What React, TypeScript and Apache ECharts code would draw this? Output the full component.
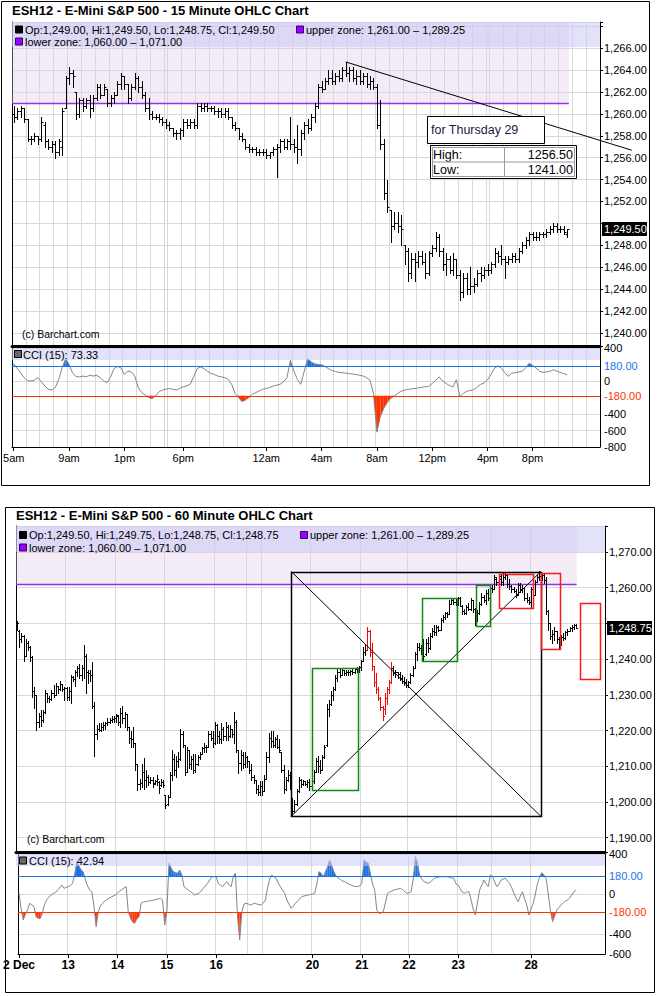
import React, { useEffect, useRef } from "react";
import * as echarts from "echarts";

const FONT = "'Liberation Sans', Arial, Helvetica, sans-serif";

// ================= 15 minute chart =================
const title15 = "ESH12 - E-Mini S&P 500 - 15 Minute OHLC Chart";
const legend15 = "Op:1,249.00, Hi:1,249.50, Lo:1,248.75, Cl:1,249.50";
const cciLegend15 = "CCI (15): 73.33";
const last15 = 1249.5;
// [open, high, low, close]
const bars15: number[][] = [
  [1260,1260.75,1259.25,1259.75],[1259.75,1260.5,1259.5,1260.25],[1260.25,1260.75,1259.75,1260.5],[1260.5,1260.5,1259.25,1259.5],
  [1259.5,1259.5,1257.5,1257.75],[1257.75,1258,1257.25,1257.75],[1257.75,1258.25,1257.5,1258],[1258,1258,1257.25,1257.75],
  [1257.75,1259.75,1257.5,1259.25],[1259,1259.25,1257,1257.5],[1257.5,1257.75,1256.75,1257],[1257,1257.5,1256.5,1257.25],
  [1257.25,1257.5,1256,1256.5],[1256.5,1257.75,1256.25,1257.5],[1257,1260.5,1256.25,1260.25],[1260.5,1263.5,1260.5,1263.25],
  [1263.25,1264.25,1262.75,1263.75],[1263.75,1264,1262.5,1263.5],[1262,1262,1259.5,1260],[1260,1261.5,1259.75,1261.25],
  [1261.25,1261.5,1260.25,1260.75],[1260.75,1261.5,1260.5,1261.25],[1261.25,1261.75,1259.75,1260.5],[1260.5,1261.75,1260.25,1261.5],
  [1261.5,1262.75,1261.25,1262.5],[1262.5,1262.75,1261.5,1261.75],[1261.75,1262.75,1261.75,1262.5],[1262.25,1262.25,1260.75,1261],
  [1261,1261.75,1260.75,1261.5],[1261.5,1262,1261,1261.75],[1261.75,1263,1261.75,1262.75],[1262.75,1263.75,1262.25,1263.5],
  [1263.5,1263.5,1262.25,1262.75],[1262.75,1262.75,1261,1261.5],[1261.5,1262.75,1261.25,1262.5],[1262.5,1263.75,1262.25,1263.25],
  [1263.25,1263.5,1262,1262.5],[1262.5,1263,1261.5,1261.75],[1261.75,1262,1260.25,1260.5],[1260.5,1261.5,1259.5,1260],
  [1260,1260.25,1259.5,1259.75],[1259.75,1260,1259.5,1259.75],[1259.75,1260,1259.25,1259.5],[1259.5,1259.75,1259,1259.25],
  [1259.25,1259.5,1258.75,1259],[1259,1259.25,1258.5,1258.75],[1258.75,1258.75,1258,1258.25],[1258.25,1258.5,1257.75,1258.25],
  [1258.25,1258.75,1257.75,1258.5],[1258.5,1259.5,1258,1259.25],[1259.25,1259.5,1258.75,1259],[1259,1259.5,1258.75,1259.25],
  [1259.25,1259.5,1258.75,1259],[1259,1261,1258.75,1260.75],[1260.75,1261,1260.25,1260.5],[1260.5,1261,1260.25,1260.75],
  [1260.75,1261,1260.25,1260.5],[1260.5,1260.75,1260.25,1260.5],[1260.5,1260.75,1260,1260.25],[1260.25,1260.5,1259.75,1260.25],
  [1260.25,1260.5,1259.75,1260],[1260,1260.5,1259.75,1260.25],[1260.25,1260.5,1259.5,1259.75],[1259.75,1259.75,1258.75,1259],
  [1259,1259.25,1258.5,1258.75],[1258.75,1258.75,1257.75,1258],[1258,1258.25,1257.5,1257.75],[1257.75,1257.75,1256.75,1257],
  [1257,1257.25,1256.5,1256.75],[1256.75,1257,1256.5,1256.75],[1256.75,1257,1256.25,1256.5],[1256.5,1256.75,1256.25,1256.5],
  [1256.5,1256.75,1256.25,1256.5],[1256.5,1256.75,1256,1256.25],[1256.25,1256.5,1256,1256.5],[1256.5,1257,1256.25,1256.75],
  [1256.75,1257.25,1254.25,1257],[1257,1257.75,1256.5,1257.5],[1257.5,1257.75,1256.75,1257],[1257,1257.75,1256.75,1257.5],
  [1257.5,1259.75,1256.75,1257.25],[1257.25,1257.75,1256.5,1257],[1257,1259,1255.5,1256.75],[1256.75,1258.5,1256.25,1258.25],
  [1258.25,1259.25,1257.75,1259],[1259,1259.5,1258.25,1258.75],[1258.75,1260,1258.5,1259.75],[1259.75,1261,1259.25,1260.75],
  [1260.75,1262.75,1260.5,1262.5],[1262.5,1263,1262,1262.25],[1262.25,1263.25,1262.25,1263],[1263,1264,1262.75,1263.25],
  [1263.25,1264,1262.75,1263],[1263,1263.75,1262.75,1263.5],[1263.5,1264,1263,1263.25],[1263.25,1264.25,1263,1264],
  [1264,1264.75,1263.5,1263.75],[1263.75,1264.25,1263,1264],[1264,1264.25,1263,1263.25],[1263.25,1264,1262.75,1263.5],
  [1263.5,1264,1262.75,1263],[1263,1263.75,1262.75,1263.5],[1263.5,1263.75,1262.5,1262.75],[1262.75,1263.5,1262.25,1263],
  [1263,1263.25,1262.25,1262.5],[1262.5,1262.75,1258.75,1259],[1259,1261.25,1256.75,1257.25],[1257.25,1257.75,1252.25,1252.75],
  [1252.75,1254,1251,1251.5],[1251.25,1251.25,1248.25,1249.75],[1249.75,1251,1249.5,1250],[1250,1251,1249.25,1249.75],
  [1249.75,1250.75,1248,1249.5],[1248,1248,1246.25,1247.5],[1247.5,1247.75,1244.75,1245.5],[1245.5,1247.25,1245,1246.75],
  [1246.75,1247.25,1244.75,1246.5],[1246.5,1247.5,1246,1247],[1247,1247.5,1246.25,1246.5],[1246.5,1247.25,1245,1245.5],
  [1245.5,1247.5,1245.25,1247.25],[1247.25,1248,1247,1247.75],[1247.75,1249.25,1247.5,1248.75],[1248.75,1249,1247,1247.5],
  [1247.5,1247.75,1245.75,1246.25],[1246.25,1247.25,1245.25,1246.75],[1246.75,1247,1245.5,1245.75],[1245.75,1247.25,1245.25,1246.75],
  [1246.75,1246.75,1245,1245.25],[1245.25,1245.75,1243,1243.75],[1243.75,1245.5,1243.25,1245],[1245,1245.5,1243.5,1244],
  [1244,1246,1243.5,1244.25],[1244.25,1245,1243.75,1244.5],[1244.5,1245.75,1244.25,1245.5],[1245.5,1246,1244.75,1245.25],
  [1245.25,1246,1245,1245.75],[1245.75,1246.25,1245.25,1245.75],[1245.75,1246.5,1245.5,1246.25],[1246.25,1247.75,1246,1247.25],
  [1247.25,1247.5,1246.5,1247],[1247,1248,1246.25,1246.75],[1246.75,1247,1245,1246.5],[1246.5,1247,1246.25,1246.75],
  [1246.75,1247.25,1246.5,1247],[1247,1247.25,1246.5,1246.75],[1246.75,1247.75,1246.5,1247.5],[1247.5,1248.25,1247.25,1248],
  [1248,1248.75,1247.75,1248.5],[1248.5,1249.25,1248,1249],[1249,1249.25,1248.5,1248.75],[1248.75,1249.25,1248.5,1248.75],
  [1248.75,1249.25,1248.5,1249],[1249,1249.25,1248.75,1249],[1249,1249.5,1248.75,1249.25],[1249.25,1249.75,1249,1249.5],
  [1249.5,1250,1249.25,1249.75],[1249.75,1250,1249.25,1249.5],[1249.5,1249.75,1249.25,1249.5],[1249.5,1249.75,1249,1249.25],
  [1249,1249.5,1248.75,1249.5],
];
const cci15: number[] = [
  210,150,100,40,5,0,10,40,-10,-60,
  -100,-110,-80,20,160,270,200,100,55,50,
  60,50,70,60,70,40,0,-20,50,150,
  175,160,80,120,110,60,-80,-140,-170,-200,
  -215,-180,-130,-110,-100,-90,-100,-110,-90,-70,
  -60,-40,50,150,170,150,120,90,80,60,
  50,40,20,-40,-150,-200,-250,-230,-200,-160,
  -140,-120,-100,-90,-80,-60,-50,-40,-10,40,
  250,120,20,-40,120,270,230,208,200,196,
  176,150,128,115,104,100,96,90,84,78,
  70,60,40,10,-150,-620,-430,-330,-260,-210,
  -184,-150,-124,-110,-100,-96,-90,-84,-75,-70,
  -64,-30,10,48,0,-30,-55,-72,16,-192,
  -150,-124,-115,-104,-70,-40,-24,16,80,156,
  184,156,100,56,96,100,110,116,160,216,
  190,156,120,104,110,116,136,120,104,90,
  73.33,
];
const ticks15: [number, string][] = [
  [0, "5am"], [16, "9am"], [32, "1pm"], [49, "6pm"], [73, "12am"],
  [89, "4am"], [105, "8am"], [121, "12pm"], [137, "4pm"], [150, "8pm"],
];
const breaks15 = [44, 137]; // last bar before the 4:15pm-5pm pause
const trend15 = [96, 1264.75, 178.7, 1256.68];
const zoneEnd15 = 160.5;
const forecastTitle = "for Thursday 29";
const forecastRows: [string, string][] = [["High:", "1256.50"], ["Low:", "1241.00"]];
const priceTicks15 = [1240, 1266, 2];
const cciLabels15 = [400, 0, -400, -600, -800];

// ================= 60 minute chart =================
const title60 = "ESH12 - E-Mini S&P 500 - 60 Minute OHLC Chart";
const legend60 = "Op:1,249.50, Hi:1,249.75, Lo:1,248.75, Cl:1,248.75";
const cciLegend60 = "CCI (15): 42.94";
const last60 = 1248.75;
const bars60: number[][] = [
  [1249.5,1250.75,1248.25,1250.25],[1248,1248.25,1243.5,1245.5],[1245.5,1247.25,1244.75,1246.5],[1246.5,1246.75,1239.5,1241],
  [1241,1245.5,1241,1244.5],[1244.5,1245,1242.5,1243.5],[1243.5,1243.75,1239.5,1240.5],[1240.5,1241,1229.5,1231],
  [1231,1232.25,1226.25,1230],[1230,1230,1220.25,1222.5],[1222.5,1225,1221,1224],[1224,1225.75,1221.25,1223],
  [1223,1225.75,1222.5,1225.25],[1225.25,1231.25,1225,1230.5],[1230.5,1230.5,1228,1229],[1229,1229.75,1228,1228.75],
  [1228.75,1231.25,1228.5,1230.5],[1230.5,1232.75,1229.5,1230],[1230,1233.25,1230,1232.5],[1232.5,1232.5,1230.5,1231.5],
  [1231.5,1233.75,1231.25,1233],[1233,1233,1231,1231.5],[1231.5,1232.25,1228.5,1232],[1232,1232.25,1228.5,1229.5],
  [1229.5,1232.25,1228.5,1231],[1231,1235.5,1227.75,1235],[1235,1235.25,1233.75,1234.5],[1234.5,1237,1232.5,1236.5],
  [1236.5,1238,1235.25,1237.5],[1237.5,1238.75,1234.75,1235.5],[1235.5,1238.25,1234.25,1237.5],[1237.5,1244,1234.75,1241],
  [1241,1241.5,1230.5,1236.5],[1236.5,1237,1233.25,1236],[1236,1237,1233.75,1235.5],[1235.5,1239.25,1226.25,1227],
  [1227,1228,1212.75,1219],[1219,1221.5,1217.75,1220.5],[1220.5,1222,1219.75,1220.25],[1220.25,1222,1219.75,1221],
  [1221,1222.5,1220.25,1221.5],[1221.5,1222.5,1220.5,1222],[1222,1223.5,1221.5,1222.5],[1222.5,1223.5,1222,1223],
  [1223,1224,1222.25,1223.25],[1223.25,1224,1222.5,1223.5],[1223.5,1224.75,1222.5,1224.25],[1224,1224.25,1221.5,1222.25],
  [1222.25,1226.25,1221,1225],[1225,1226.75,1222,1223.5],[1223.5,1225.25,1221,1224.5],[1224.5,1224.5,1220.25,1221],
  [1221,1221,1216.5,1218],[1218,1219.75,1215.5,1217.5],[1217.5,1221,1215.5,1216.5],[1216.5,1216.5,1209,1210.5],
  [1210.5,1210.5,1203.25,1205],[1205,1206.5,1203.75,1205.25],[1205.25,1210.75,1204.25,1208.5],[1208.5,1212.25,1203.5,1206],
  [1206,1209,1204.25,1207],[1207,1207.5,1204.75,1205.5],[1205.5,1207,1205.25,1206.25],[1206.25,1207,1204.25,1205],
  [1205.25,1206.25,1205,1205.75],[1205.75,1207.5,1204.75,1206.5],[1205.5,1205.75,1202.5,1204],[1204.75,1206.5,1204.5,1205.5],
  [1205.5,1206,1204.25,1204.75],[1202,1202,1198.25,1199],[1199.5,1202,1199.25,1201.5],[1201.5,1208.5,1201.25,1207.5],
  [1207.5,1214.5,1206.25,1212],[1212,1213.5,1207.5,1209],[1209,1212.75,1207,1211.5],[1211.5,1214,1209.75,1212],
  [1212,1220.5,1211.75,1219],[1219,1220,1215.5,1216],[1216,1216,1207.5,1208.5],[1208.5,1215.5,1208.25,1214.5],
  [1214.5,1214.5,1209.5,1210.5],[1210.5,1212.75,1209.25,1212],[1212,1213.5,1208,1209],[1209,1213.5,1208.25,1210.5],
  [1210.5,1213,1210.25,1212.5],[1212.5,1214,1212,1213.5],[1213.5,1215.5,1213.5,1215],[1215,1216.5,1214,1215.25],
  [1215.25,1216,1214,1215.5],[1215.5,1219.75,1215.5,1219],[1219,1219.75,1217.25,1218],[1218,1219.75,1215.5,1216.5],
  [1216.5,1222.5,1216.25,1221.5],[1221.5,1221.75,1216.5,1218.5],[1218.5,1220,1216.5,1217.5],[1217.5,1222,1216.5,1220.5],
  [1220.5,1221,1217.25,1218.5],[1218.5,1222.5,1217.25,1221],[1221,1221.5,1217.25,1218.5],[1218.5,1221.5,1218.25,1220.5],
  [1220.5,1220.5,1218.25,1219],[1219,1225.25,1216.5,1222.5],[1222.5,1223,1214,1214.5],[1214.5,1214.5,1208,1211],
  [1211,1214.5,1209,1213],[1213,1214,1209.5,1210.5],[1210.5,1214,1209.75,1212.5],[1212.5,1212.75,1209.75,1211.5],
  [1211.5,1211.5,1208,1209],[1209,1210.75,1206,1207],[1207,1207.5,1205.25,1206],[1206,1206,1202.5,1203.5],
  [1203.5,1204.75,1202,1202.75],[1202.75,1205.75,1202,1204.5],[1204.5,1205.75,1202,1203],[1203,1207.5,1203,1206.5],
  [1206.5,1214,1206.5,1212.5],[1212.5,1219.25,1211.25,1218],[1218,1219.75,1215.5,1217],[1217,1219.75,1215.5,1216],
  [1216,1218.25,1215.5,1217.5],[1217.5,1218.75,1215,1215.5],[1215.5,1217.75,1214,1214.5],[1214,1214,1208.5,1209],
  [1209,1210.25,1202.5,1203.5],[1203.5,1207,1203.25,1206],[1206,1209,1205.75,1207.5],[1207.5,1208.5,1203.75,1204.5],
  [1200.5,1201,1196,1197.5],[1197.5,1200.5,1197.25,1199.5],[1199.5,1203.75,1199.25,1203],[1203,1207,1202.75,1206],
  [1206,1206.5,1204.25,1205],[1205,1206.25,1204.75,1205.75],[1205.75,1205.75,1204.75,1205],[1205,1206,1204.25,1205.5],
  [1205.5,1206.5,1203.25,1204.5],[1204.5,1206.5,1203.25,1205.75],[1205.75,1209,1205.25,1208.5],[1208.5,1212.25,1208.25,1211.5],
  [1211.5,1212.75,1208.5,1210],[1210,1211.75,1208,1209],[1209,1213,1209,1212.5],[1212.5,1216,1212.25,1215.5],
  [1216,1227.5,1215.75,1226],[1226,1228.5,1224,1227.5],[1227.5,1231,1227.25,1230],[1230,1232.25,1228.5,1231.5],
  [1231.5,1235.5,1231.25,1234.75],[1234.75,1237.5,1234,1236.5],[1236.5,1237.5,1235,1235.5],[1235.5,1237.5,1235.5,1237],
  [1237,1237,1235.5,1236],[1236,1237,1235.5,1236.5],[1236.5,1237,1235.5,1236.25],[1236.25,1237,1235.5,1236.75],
  [1236.75,1237.25,1235.75,1236.5],[1236.5,1237.5,1236,1237.25],[1237.25,1237.75,1236.5,1237],[1237,1238,1236.5,1237.75],
  [1237.75,1239.75,1237,1239.5],[1239.5,1243.5,1239.5,1242],[1242,1244,1241.25,1242.5],[1242.5,1249,1242.5,1248],
  [1248,1248.25,1240.75,1242],[1242,1244.5,1237,1238],[1238,1238,1232.5,1233.5],[1233.5,1236,1230.5,1231.5],
  [1231.5,1232.25,1228.5,1229],[1229,1229.5,1225.75,1226.5],[1226.5,1226.75,1223,1224],[1226,1230.5,1224.5,1229],
  [1229,1232.25,1227.5,1231.5],[1231.5,1234.25,1230.5,1233.5],[1233.5,1239.25,1233.25,1237.5],[1237.5,1238,1235.5,1236],
  [1236,1237,1235,1236.5],[1236.5,1236.5,1234.75,1235.75],[1235.75,1236.5,1234.25,1234.75],[1234.75,1235.5,1233.25,1234],
  [1234,1235,1232.75,1233.5],[1233.5,1234.5,1232.25,1232.75],[1232.75,1233.75,1232.25,1233.5],[1233.5,1236,1233.25,1235.5],
  [1235.5,1238,1235.25,1237.5],[1237.5,1242,1237.5,1241.5],[1241.5,1244.5,1239.75,1243.5],[1243.5,1244.5,1242.5,1243],
  [1243,1244,1241.5,1242],[1242,1245.75,1239.75,1241],[1241.5,1245.75,1241.25,1244.5],[1244.5,1246.25,1242,1243],
  [1243,1247.25,1242.75,1246.5],[1246.5,1248.75,1246.25,1248],[1248,1249.5,1246.75,1247.5],[1247.5,1249.5,1246.75,1249],
  [1249,1249.25,1247.75,1248.25],[1248.25,1251.5,1248.25,1251],[1251,1252.25,1250.5,1251.75],[1251.75,1253.25,1251.25,1253],
  [1253,1253.25,1251.75,1252.5],[1252.5,1256.5,1252.5,1255.5],[1255.5,1257,1255.5,1256.5],[1256.5,1256.75,1255.5,1256],
  [1256,1257,1255.25,1255.75],[1255.75,1257.5,1255.25,1257],[1257,1257.5,1254.75,1255],[1255,1255.25,1252.75,1253.5],
  [1253.5,1254,1252.75,1253],[1253,1255.25,1252.75,1254.5],[1254.5,1255.75,1253.75,1254],[1254,1257,1253.75,1256.5],
  [1256.5,1256.5,1253.25,1254],[1254,1254.25,1249.5,1251],[1251,1253.75,1250.75,1253],[1253,1256,1252.75,1255.5],
  [1255.5,1258.5,1255.25,1257.5],[1257.5,1258,1256,1256.5],[1256.5,1259.25,1255.5,1258.5],[1258.5,1259.75,1256.5,1257],
  [1257,1260.25,1256.5,1260],[1260,1260.75,1258.75,1259.5],[1259.5,1263.5,1259.5,1263],[1262.5,1263,1260.75,1261.5],
  [1261.5,1263.75,1261,1263.25],[1262.5,1263.5,1260.75,1261.5],[1261.5,1264,1260.75,1263],[1263,1264,1262.5,1263.5],
  [1263.5,1263.5,1260.25,1261],[1261,1262.5,1259.75,1260.5],[1260.5,1260.75,1258.75,1259.5],[1259.5,1260.25,1258.75,1259],
  [1259,1259.5,1257.5,1258],[1258,1261.25,1258,1260.75],[1260.75,1261.25,1258.75,1259.5],[1259.5,1260.75,1258.75,1260],
  [1260,1260,1256.5,1257],[1257,1258.5,1256,1256.5],[1256.5,1257.5,1255.5,1256],[1256,1260.25,1254.5,1259.5],
  [1259.5,1260,1257.5,1258],[1258,1262.25,1258,1261.5],[1261.5,1263.5,1261.5,1263],[1263,1264.75,1262.25,1263.25],
  [1263.25,1264,1262.25,1263.5],[1263.5,1263.75,1261.25,1262.25],[1262.25,1263,1252.75,1253.5],[1253.5,1253.75,1248.25,1250],
  [1250,1250,1245.5,1246.5],[1246.5,1248.25,1244.5,1247],[1247,1249,1245.25,1248],[1248,1248,1244.5,1245.5],
  [1245.5,1246.25,1242.75,1244],[1244,1246.75,1244,1246.25],[1246.25,1247.25,1245.25,1246],[1246,1247.75,1245.75,1247.5],
  [1247.5,1248.5,1246.75,1248],[1248,1249,1247.75,1248.75],[1248.75,1249.5,1248,1249],[1249,1249.75,1248.5,1249.5],
  [1249.5,1249.75,1248.75,1248.75],
];
const cci60: number[] = [
  10,-150,-260,-200,-160,-93,-110,-127,-230,-243,
  -243,-180,-100,-55,-30,-10,5,15,40,60,
  90,57,65,73,85,107,200,323,280,240,
  223,140,80,40,23,-120,-327,-177,-120,-93,
  -70,-55,-43,-30,-20,-10,10,30,45,60,
  73,-177,-240,-280,-293,-250,-227,-93,-80,-77,
  -72,-68,-65,-60,-55,-50,-43,-60,-310,-177,
  307,260,223,215,207,240,190,73,55,40,
  25,10,-10,0,7,30,57,80,107,140,
  173,173,173,107,90,73,100,123,90,73,
  173,207,-227,-460,-177,-100,-93,-100,-110,-100,
  -93,-100,-105,-110,-90,-60,60,150,190,170,
  157,110,73,40,7,-60,-100,-143,-120,-93,
  -70,-50,-27,-20,-15,-10,-5,0,7,100,
  223,207,173,220,273,340,280,223,180,157,
  145,130,123,110,100,90,80,75,73,80,
  107,340,320,307,207,100,40,-160,-193,-190,
  -177,-90,7,20,30,40,45,50,57,45,
  25,7,10,23,150,373,307,190,150,123,
  115,107,120,140,157,165,170,173,172,173,
  173,165,160,157,100,90,50,15,7,20,
  23,-60,-150,-210,-80,40,90,140,100,73,
  190,173,120,73,100,140,150,157,130,107,
  60,7,-40,-77,-20,23,-50,-110,-210,-150,
  -93,0,107,170,213,190,157,0,-160,-277,
  -220,-160,-135,-110,-90,-70,-60,-40,-10,20,
  42.94,
];
const ticks60: [number, string][] = [
  [0, "2 Dec"], [23, "13"], [46, "14"], [69, "15"], [92, "16"],
  [137, "20"], [160, "21"], [182, "22"], [205, "23"], [239, "28"],
];
const dayLines60 = [23, 46, 69, 92, 107, 114, 137, 160, 182, 205, 221, 239];
const redBars60 = [163, 174];
const bigBox60 = [127.6, 243.6, 1196, 1264.5];
const greenBoxes60: number[][] = [
  [137, 158.5, 1203.25, 1237.5],
  [188.5, 204.7, 1239.5, 1257],
  [213.3, 219.8, 1249.25, 1260.75],
];
const redBoxes60: number[][] = [
  [224.2, 240, 1254.4, 1263.75],
  [243.6, 252.4, 1242.7, 1264],
  [262, 271, 1234.4, 1255.6],
];
const zoneEnd60 = 260.3;
const priceTicks60 = [1190, 1270, 10];
const cciLabels60 = [400, 0, -400, -600];

// ================= shared =================
const upperZone = [1261.0, 1289.25];
const upperZoneText = "upper zone: 1,261.00 \u2013 1,289.25";
const lowerZoneText = "lower zone: 1,060.00 \u2013 1,071.00";
const cciLevels = [180, -180];
const copyright = "(c) Barchart.com";

const N15 = 170;
const N60 = 274;
const GRID = "#d9d9d9";
const BLUE = "#1a74e8";
const RED = "#ff3300";
const PURPLE = "#9a2cf0";

function bx(api: any, x: number, n: number) {
  const i = Math.max(0, Math.min(n - 1, Math.floor(x)));
  return api.coord([i, 0])[0] + (x - i) * api.size([1, 0])[0];
}

function ohlcRender(tick: number, isRed: (i: number) => boolean) {
  return (params: any, api: any) => {
    const i = api.value(0);
    const o = api.value(1), h = api.value(2), l = api.value(3), c = api.value(4);
    const px = api.coord([i, h]);
    const x = Math.round(px[0]) + 0.5;
    const yh = Math.round(px[1]);
    const yl = Math.round(api.coord([i, l])[1]) + 1;
    const yo = Math.round(api.coord([i, o])[1]) + 0.5;
    const yc = Math.round(api.coord([i, c])[1]) + 0.5;
    const st = { stroke: isRed(i) ? "#ff0000" : "#000", lineWidth: 1 };
    return {
      type: "group",
      children: [
        { type: "line", shape: { x1: x, y1: yh, x2: x, y2: yl }, style: st },
        { type: "line", shape: { x1: x - tick, y1: yo, x2: x, y2: yo }, style: st },
        { type: "line", shape: { x1: x, y1: yc, x2: x + tick, y2: yc }, style: st },
      ],
    };
  };
}

function cciFillRender(params: any, api: any) {
  const i = api.value(0), a = api.value(1), b = api.value(2);
  const P = (t: number, v: number) => {
    const p0 = api.coord([i, v]);
    const p1 = api.coord([i + 1, v]);
    return [p0[0] + (p1[0] - p0[0]) * t, p0[1]];
  };
  const children: any[] = [];
  const defs: [number, string, number][] = [[cciLevels[0], BLUE, 1], [cciLevels[1], RED, -1]];
  for (const [th, color, sign] of defs) {
    const A = (a - th) * sign, B = (b - th) * sign;
    if (A <= 0 && B <= 0) continue;
    let pts: number[][];
    if (A > 0 && B > 0) pts = [P(0, th), P(0, a), P(1, b), P(1, th)];
    else if (A > 0) pts = [P(0, th), P(0, a), P(A / (A - B), th)];
    else pts = [P(-A / (B - A), th), P(1, b), P(1, th)];
    children.push({ type: "polygon", shape: { points: pts }, style: { fill: color } });
  }
  return { type: "group", children };
}

function zoneRender(zoneEnd: number, n: number) {
  return (params: any, api: any) => {
    const cs = params.coordSys;
    const x0 = cs.x, x1 = bx(api, zoneEnd, n);
    const yLo = api.coord([0, upperZone[0]])[1];
    const yHi = Math.max(cs.y, api.coord([0, upperZone[1]])[1]);
    const yl = Math.round(yLo) + 0.5;
    return {
      type: "group",
      children: [
        { type: "rect", shape: { x: x0, y: yHi, width: x1 - x0, height: yLo - yHi }, style: { fill: "rgba(222,200,228,0.36)" } },
        { type: "line", shape: { x1: x0, y1: yl, x2: x1, y2: yl }, style: { stroke: PURPLE, lineWidth: 1.5 } },
      ],
    };
  };
}

function tagRender(value: number) {
  const text = value.toLocaleString("en-US", { minimumFractionDigits: 2, maximumFractionDigits: 2 });
  return (params: any, api: any) => {
    const cs = params.coordSys;
    const y = Math.round(api.coord([0, value])[1]);
    const x = cs.x + cs.width + 2;
    return {
      type: "group",
      children: [
        { type: "rect", shape: { x, y: y - 7, width: 45, height: 14 }, style: { fill: "#000" } },
        {
          type: "text", x: x + 2, y,
          style: { text, fill: "#fff", font: `11px ${FONT}`, textAlign: "left", align: "left", textVerticalAlign: "middle", verticalAlign: "middle" },
        },
      ],
    };
  };
}

function priceFmt(t: number[], last: number, gap: number) {
  return (v: number) => {
    const r = Math.round(v * 100) / 100;
    if (r < t[0] - 1e-6 || r > t[1] + 1e-6) return "";
    if (Math.abs(r / t[2] - Math.round(r / t[2])) > 1e-6) return "";
    if (Math.abs(r - last) < gap) return "";
    return r.toLocaleString("en-US", { minimumFractionDigits: 2, maximumFractionDigits: 2 });
  };
}

function txt(x: number, y: number, text: string, font = `11px ${FONT}`, fill = "#000", align = "left") {
  return {
    type: "text", x, y, z: 20, silent: true,
    style: { text, fill, font, textAlign: align, align, textVerticalAlign: "middle", verticalAlign: "middle" },
  };
}
function rect(x: number, y: number, w: number, h: number, style: any, z = 20) {
  return { type: "rect", z, silent: true, shape: { x, y, width: w, height: h }, style };
}
function gline(x1: number, y1: number, x2: number, y2: number, stroke: string) {
  return { type: "line", z: 21, silent: true, shape: { x1, y1, x2, y2 }, style: { stroke, lineWidth: 1 } };
}

function buildOption() {
  const minutes15: number[] = [];
  let t = 300;
  for (let i = 0; i < N15; i++) {
    minutes15.push(t);
    t = breaks15.includes(i) ? 17 * 60 : (t + 15) % 1440;
  }
  const cats15 = minutes15.map((m) => `${Math.floor(m / 60)}:${String(m % 60).padStart(2, "0")}`);
  const cats60 = Array.from({ length: N60 }, (_, i) => String(i));
  const tickMap15 = new Map(ticks15);
  const tickMap60 = new Map(ticks60);
  const hourLine = (i: number) => minutes15[i] % 60 === 0;
  const dayLine = (i: number) => dayLines60.includes(i);

  const xMain = (gridIndex: number, data: string[], split: (i: number) => boolean) => ({
    type: "category", gridIndex, data, boundaryGap: true,
    axisLine: { show: true, onZero: false, lineStyle: { color: "#000", width: 3 } },
    axisTick: { show: false }, axisLabel: { show: false },
    splitLine: { show: true, interval: (i: number) => split(i), lineStyle: { color: GRID, width: 1 } },
  });
  const xCci = (gridIndex: number, data: string[], split: (i: number) => boolean, map: Map<number, string>, bold: boolean) => ({
    type: "category", gridIndex, data, boundaryGap: true,
    axisLine: { show: true, onZero: false, lineStyle: { color: "#000", width: 1 } },
    axisTick: { show: true, alignWithLabel: true, interval: (i: number) => map.has(i), length: 4, lineStyle: { color: "#000" } },
    axisLabel: {
      show: true, interval: (i: number) => map.has(i), formatter: (_v: string, i: number) => map.get(i) ?? "",
      color: "#000", fontSize: bold ? 12 : 11, fontWeight: bold ? "bold" : "normal", fontFamily: FONT, margin: 5,
    },
    splitLine: { show: true, interval: (i: number) => split(i), lineStyle: { color: GRID, width: 1 } },
  });
  const yPrice = (gridIndex: number, min: number, max: number, splitNumber: number, fmt: any) => ({
    type: "value", gridIndex, position: "right", min, max, splitNumber, scale: true,
    axisLine: { show: true, onZero: false, lineStyle: { color: "#000" } },
    axisTick: { show: true, length: 3, lineStyle: { color: "#000" } },
    axisLabel: { formatter: fmt, color: "#000", fontSize: 11, fontFamily: FONT, margin: 4 },
    splitLine: { show: true, lineStyle: { color: GRID } },
  });
  const yLeft = (gridIndex: number) => ({
    type: "value", gridIndex, position: "left", min: 0, max: 1,
    axisLine: { show: true, onZero: false, lineStyle: { color: "#000" } },
    axisTick: { show: false }, axisLabel: { show: false }, splitLine: { show: false },
  });
  const yCci = (gridIndex: number, min: number, labels: number[]) => {
    const count = Math.round((400 - min) / 200) + 1;
    const colors = Array.from({ length: count }, (_, k) => (labels.includes(min + k * 200) ? GRID : "rgba(0,0,0,0)"));
    return {
      type: "value", gridIndex, position: "right", min, max: 400, interval: 200,
      axisLine: { show: true, onZero: false, lineStyle: { color: "#000" } },
      axisTick: { show: false },
      axisLabel: { formatter: (v: number) => (labels.includes(v) ? String(v) : ""), color: "#000", fontSize: 11, fontFamily: FONT, margin: 4 },
      splitLine: { show: true, lineStyle: { color: colors } },
    };
  };
  const cciLine = (xi: number, yi: number, data: number[]) => ({
    type: "line", xAxisIndex: xi, yAxisIndex: yi, data, z: 4, symbol: "none", showSymbol: false,
    lineStyle: { color: "#858585", width: 1 }, silent: true,
    markLine: {
      silent: true, symbol: ["none", "none"],
      data: [
        { yAxis: cciLevels[0], lineStyle: { color: BLUE, width: 1, type: "solid" },
          label: { show: true, position: "end", formatter: "180.00", color: BLUE, fontSize: 11, fontFamily: FONT, distance: 4 } },
        { yAxis: cciLevels[1], lineStyle: { color: RED, width: 1, type: "solid" },
          label: { show: true, position: "end", formatter: "-180.00", color: RED, fontSize: 11, fontFamily: FONT, distance: 4 } },
      ],
    },
  });
  const cciFill = (xi: number, yi: number, data: number[]) => ({
    type: "custom", xAxisIndex: xi, yAxisIndex: yi, z: 3, silent: true, clip: false,
    data: data.slice(0, -1).map((v, i) => [i, v, data[i + 1]]),
    encode: { x: 0, y: [1, 2] },
    renderItem: cciFillRender,
  });

  const inRed = (i: number) => i >= redBars60[0] && i <= redBars60[1];

  const series: any[] = [
    // ---- top ----
    { type: "custom", xAxisIndex: 0, yAxisIndex: 0, z: 1, silent: true, clip: false, data: [[0, upperZone[0]]], renderItem: zoneRender(zoneEnd15, N15) },
    {
      type: "custom", xAxisIndex: 0, yAxisIndex: 0, z: 3, silent: true, clip: false,
      data: bars15.map((b, i) => [i, ...b]), encode: { x: 0, y: [1, 2, 3, 4] },
      renderItem: ohlcRender(2, () => false),
    },
    {
      type: "custom", xAxisIndex: 0, yAxisIndex: 0, z: 4, silent: true, clip: false, data: [[0, trend15[1]]],
      renderItem: (params: any, api: any) => ({
        type: "line",
        shape: { x1: bx(api, trend15[0], N15), y1: api.coord([0, trend15[1]])[1], x2: bx(api, trend15[2], N15), y2: api.coord([0, trend15[3]])[1] },
        style: { stroke: "#000", lineWidth: 1 },
      }),
    },
    { type: "custom", xAxisIndex: 0, yAxisIndex: 0, z: 6, silent: true, clip: false, data: [[0, last15]], renderItem: tagRender(last15) },
    cciFill(1, 2, cci15),
    cciLine(1, 2, cci15),
    // ---- bottom ----
    { type: "custom", xAxisIndex: 2, yAxisIndex: 4, z: 1, silent: true, clip: false, data: [[0, upperZone[0]]], renderItem: zoneRender(zoneEnd60, N60) },
    {
      type: "custom", xAxisIndex: 2, yAxisIndex: 4, z: 3, silent: true, clip: false,
      data: bars60.map((b, i) => [i, ...b]), encode: { x: 0, y: [1, 2, 3, 4] },
      renderItem: ohlcRender(1.5, inRed),
    },
    {
      type: "custom", xAxisIndex: 2, yAxisIndex: 4, z: 5, silent: true, clip: false, data: [[0, bigBox60[2]]],
      renderItem: (params: any, api: any) => {
        const R = (b: number[], stroke: string, lw: number) => {
          const x0 = Math.round(bx(api, b[0], N60)) + 0.5, x1 = Math.round(bx(api, b[1], N60)) + 0.5;
          const yT = Math.round(api.coord([0, b[3]])[1]) + 0.5, yB = Math.round(api.coord([0, b[2]])[1]) + 0.5;
          return { type: "rect", shape: { x: x0, y: yT, width: x1 - x0, height: yB - yT }, style: { fill: "none", stroke, lineWidth: lw } };
        };
        const bx0 = bx(api, bigBox60[0], N60), bx1 = bx(api, bigBox60[1], N60);
        const byT = api.coord([0, bigBox60[3]])[1], byB = api.coord([0, bigBox60[2]])[1];
        return {
          type: "group",
          children: [
            R(bigBox60, "#000", 1.5),
            { type: "line", shape: { x1: bx0, y1: byT, x2: bx1, y2: byB }, style: { stroke: "#000", lineWidth: 1 } },
            { type: "line", shape: { x1: bx0, y1: byB, x2: bx1, y2: byT }, style: { stroke: "#000", lineWidth: 1 } },
            ...greenBoxes60.map((b) => R(b, "#118811", 1.5)),
            ...redBoxes60.map((b) => R(b, "#ff1a1a", 1.5)),
          ],
        };
      },
    },
    { type: "custom", xAxisIndex: 2, yAxisIndex: 4, z: 6, silent: true, clip: false, data: [[0, last60]], renderItem: tagRender(last60) },
    cciFill(3, 6, cci60),
    cciLine(3, 6, cci60),
  ];

  const band = "rgba(200,200,248,0.52)";
  const graphics: any[] = [
    // top panel
    rect(1.5, 1.5, 648, 484, { fill: "none", stroke: "#000", lineWidth: 1 }, 30),
    txt(12, 10.5, title15, `bold 13px ${FONT}`),
    rect(12, 22, 588, 25, { fill: band }, 8),
    rect(15.5, 26, 7, 7, { fill: "#000", stroke: "#000", lineWidth: 1 }),
    txt(25, 29.5, legend15),
    rect(296.5, 26, 7, 7, { fill: "#9900ff", stroke: "#330066", lineWidth: 1 }),
    txt(306, 29.5, upperZoneText),
    rect(15.5, 38, 7, 7, { fill: "#9900ff", stroke: "#330066", lineWidth: 1 }),
    txt(25, 41.5, lowerZoneText),
    txt(22, 333.5, copyright, `10.5px ${FONT}`),
    rect(12, 348, 588, 12, { fill: band }, 8),
    rect(14.5, 350.5, 7, 7, { fill: "#666", stroke: "#000", lineWidth: 1 }),
    txt(23, 354.5, cciLegend15),
    rect(427.5, 116.5, 117, 27, { fill: "#fff", stroke: "#000", lineWidth: 1 }),
    txt(431, 130, forecastTitle, `12.5px ${FONT}`, "#1a1a40"),
    rect(430.5, 145.5, 146, 33, { fill: "#fff", stroke: "#000", lineWidth: 1 }),
    rect(432.5, 147.5, 142, 29, { fill: "none", stroke: "#9a9a9a", lineWidth: 1 }, 21),
    gline(504.5, 147.5, 504.5, 176.5, "#9a9a9a"),
    gline(432.5, 162, 574.5, 162, "#9a9a9a"),
    txt(433, 154.5, forecastRows[0][0], `12.5px ${FONT}`),
    txt(573, 154.5, forecastRows[0][1], `12.5px ${FONT}`, "#000", "right"),
    txt(433, 170, forecastRows[1][0], `12.5px ${FONT}`),
    txt(573, 170, forecastRows[1][1], `12.5px ${FONT}`, "#000", "right"),
    // bottom panel
    rect(5.5, 507.5, 649, 485, { fill: "none", stroke: "#000", lineWidth: 1 }, 30),
    txt(16, 515.5, title60, `bold 13px ${FONT}`),
    rect(16, 526, 589, 26, { fill: band }, 8),
    rect(19.5, 531.5, 7, 7, { fill: "#000", stroke: "#000", lineWidth: 1 }),
    txt(29, 535, legend60),
    rect(300.5, 531.5, 7, 7, { fill: "#9900ff", stroke: "#330066", lineWidth: 1 }),
    txt(310, 535, upperZoneText),
    rect(19.5, 544, 7, 7, { fill: "#9900ff", stroke: "#330066", lineWidth: 1 }),
    txt(29, 547.5, lowerZoneText),
    txt(27, 838.5, copyright, `10.5px ${FONT}`),
    rect(16, 854, 589, 12, { fill: band }, 8),
    rect(19.5, 857, 7, 7, { fill: "#666", stroke: "#000", lineWidth: 1 }),
    txt(29, 861, cciLegend60),
  ];

  return {
    animation: false,
    backgroundColor: "#fff",
    textStyle: { fontFamily: FONT },
    grid: [
      { left: 12, top: 22, width: 588, height: 324 },
      { left: 12, top: 348, width: 588, height: 99 },
      { left: 16, top: 526, width: 589, height: 326 },
      { left: 16, top: 854, width: 589, height: 100 },
    ],
    xAxis: [
      xMain(0, cats15, hourLine),
      xCci(1, cats15, hourLine, tickMap15, false),
      xMain(2, cats60, dayLine),
      xCci(3, cats60, dayLine, tickMap60, true),
    ],
    yAxis: [
      yPrice(0, 1238.79, 1268.4, 15, priceFmt(priceTicks15, last15, 1)),
      yLeft(0),
      yCci(1, -800, cciLabels15),
      yLeft(1),
      yPrice(2, 1185.97, 1277.28, 9, priceFmt(priceTicks60, last60, 3)),
      yLeft(2),
      yCci(3, -600, cciLabels60),
      yLeft(3),
    ],
    series,
    graphic: { elements: graphics },
  };
}

export default function App() {
  const ref = useRef<HTMLDivElement>(null);
  useEffect(() => {
    if (!ref.current) return;
    const chart = echarts.init(ref.current, undefined, { renderer: "svg" });
    chart.setOption(buildOption() as any);
    return () => chart.dispose();
  }, []);
  return (
    <div
      ref={ref}
      style={{ position: "absolute", left: 0, top: 0, width: 657, height: 996, background: "#fff" }}
    />
  );
}
